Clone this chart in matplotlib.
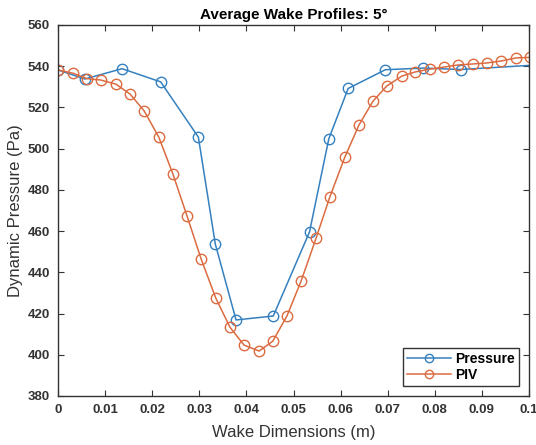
import numpy as np
import matplotlib
matplotlib.use("Agg")
import matplotlib.pyplot as plt

plt.rcParams['font.family'] = ['Liberation Sans', 'DejaVu Sans']

# Pressure probe profile
p_x = [0.0, 0.0057, 0.0136, 0.0218, 0.0298, 0.0334, 0.0378, 0.0457, 0.0534,
       0.0575, 0.0616, 0.0695, 0.0776, 0.0855, 0.1015]
p_y = [538.2, 533.8, 538.8, 532.4, 505.6, 453.7, 416.9, 418.8, 459.6,
       504.8, 529.2, 538.3, 539.1, 538.4, 540.6]

# PIV profile
piv_x = [0.0, 0.0032, 0.0061, 0.0091, 0.0123, 0.0153, 0.0183, 0.0214, 0.0244,
         0.0274, 0.0304, 0.0335, 0.0365, 0.0395, 0.0427, 0.0456, 0.0486, 0.0516,
         0.0548, 0.0577, 0.0609, 0.0639, 0.0669, 0.0698, 0.0730, 0.0758, 0.0790,
         0.0820, 0.0849, 0.0881, 0.0911, 0.0940, 0.0972, 0.1002]
piv_y = [538.2, 536.6, 534.0, 533.3, 531.3, 526.5, 518.3, 505.6, 487.7,
         467.3, 446.4, 427.5, 413.4, 404.7, 401.8, 406.6, 418.8, 435.7,
         456.6, 476.5, 495.9, 511.5, 523.1, 530.4, 535.2, 537.2, 538.6,
         539.6, 540.6, 541.1, 541.6, 542.5, 544.0, 544.3]

xticks = np.arange(0, 0.1001, 0.01)
yticks = np.arange(380, 561, 20)

blue = '#3580BE'
orange = '#DC6B40'
dark = '#333333'

fig = plt.figure(figsize=(5.36, 4.45), dpi=100)
ax = fig.add_axes([58/536, 1 - 396/445, (529-58)/536, (396-25)/445])

ax.plot(p_x, p_y, color=blue, marker='o', mfc='none', ms=7.5, lw=1.1,
        mew=1.0, label='Pressure')
ax.plot(piv_x, piv_y, color=orange, marker='o', mfc='none', ms=7.5, lw=1.1,
        mew=1.0, label='PIV')

ax.set_xlim(0, 0.1)
ax.set_ylim(380, 560)
ax.set_xticks(xticks)
ax.set_xticklabels(['0'] + ['%.2f' % v for v in xticks[1:-1]] + ['0.1'])
ax.set_yticks(yticks)
ax.tick_params(direction='in', top=True, right=True, labelsize=9.5,
               length=4, width=0.8, colors=dark, pad=6)
for lab in ax.get_xticklabels() + ax.get_yticklabels():
    lab.set_fontweight('bold')
for s in ax.spines.values():
    s.set_color(dark)
    s.set_linewidth(1.0)

ax.set_title('Average Wake Profiles: 5°', fontsize=11, fontweight='bold', pad=4)
ax.set_xlabel('Wake Dimensions (m)', fontsize=12, labelpad=6, color=dark)
ax.set_ylabel('Dynamic Pressure (Pa)', fontsize=12, labelpad=3, color=dark)

leg = ax.legend(loc='lower right', fancybox=False, framealpha=1,
                edgecolor=dark, borderaxespad=0.7, handlelength=3.2,
                borderpad=0.3, labelspacing=0.15, handletextpad=0.3,
                markerscale=0.8,
                prop={'size': 10, 'weight': 'bold'})
leg.get_frame().set_linewidth(1.0)

fig.savefig('out.png', dpi=100)
